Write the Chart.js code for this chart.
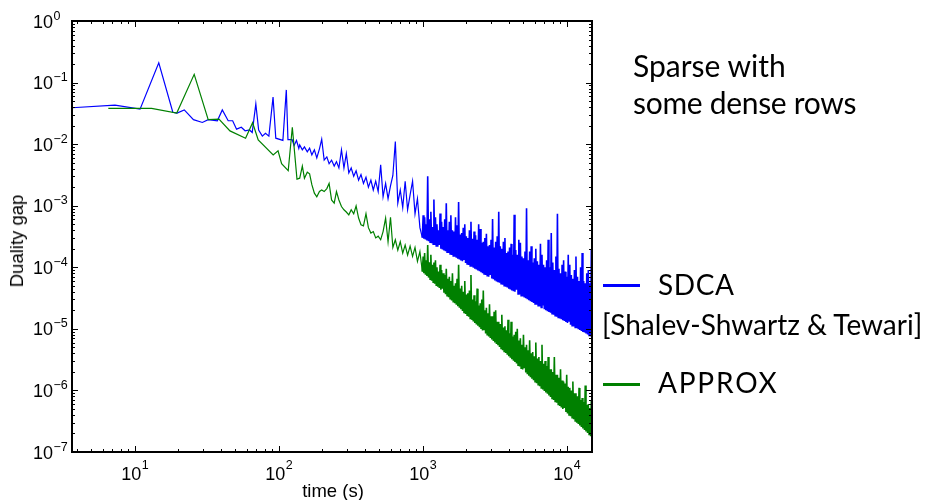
<!DOCTYPE html>
<html><head><meta charset="utf-8">
<script src="https://cdn.jsdelivr.net/npm/chart.js@4.4.1/dist/chart.umd.min.js"></script>
<style>
html,body{margin:0;padding:0;background:#fff;}
#wrap{position:relative;width:925px;height:500px;overflow:hidden;}
canvas{position:absolute;left:0;top:0;}
.t{position:absolute;white-space:nowrap;color:#000;}
.big{font-family:Lato,"Liberation Sans",sans-serif;}
.ax{font-family:"Liberation Sans",Arial,sans-serif;font-size:18.5px;}
.ln{position:absolute;height:3px;}
</style></head><body>
<div id="wrap">
<canvas id="c" width="925" height="500"></canvas>
<div class="t big" style="left:633px;top:47px;font-size:30px;line-height:36px;">Sparse with</div>
<div class="t big" style="left:633px;top:84px;font-size:30px;line-height:36px;letter-spacing:-0.3px;">some dense rows</div>
<div class="ln" style="left:603px;top:284px;width:37px;background:#0000ff;"></div>
<div class="t big" style="left:658px;top:267px;font-size:28px;line-height:34px;letter-spacing:0.6px;">SDCA</div>
<div class="t big" style="left:602px;top:307px;font-size:28px;line-height:34px;">[Shalev-Shwartz &amp; Tewari]</div>
<div class="ln" style="left:603px;top:383px;width:37px;background:#008000;"></div>
<div class="t big" style="left:658px;top:365px;font-size:28px;line-height:34px;letter-spacing:1.8px;">APPROX</div>
<div class="t ax" style="left:17px;top:241px;transform:translate(-50%,-50%) rotate(-90deg);">Duality gap</div>
<div class="t ax" style="left:333px;top:491px;transform:translate(-50%,-50%);">time (s)</div>
</div>
<script>
// ---- tick labels ----
const xMajor = [10, 100, 1000, 10000];
const xExp = ['1', '2', '3', '4'];
const yMajor = [1, 1e-1, 1e-2, 1e-3, 1e-4, 1e-5, 1e-6, 1e-7];
const yExp = ['0', '\u22121', '\u22122', '\u22123', '\u22124', '\u22125', '\u22126', '\u22127'];

// ---- SDCA, early part ----
const sdcaEarlyT = [3.67,7.3,10.9,14.7,18.4,19.7,22.1,25.6,29.5,32.4,37.5,40.6,44.6,47.9,51,55,58.5,62.7,65.5,69.4,72.6,77,81,85.5,91.4,95.5,107,113,116,124,128,133,138];
const sdcaEarlyY = [0.039,0.043,0.037,0.21,0.033,0.032,0.036,0.025,0.0225,0.025,0.024,0.036,0.024,0.024,0.0175,0.0188,0.0165,0.017,0.0155,0.045,0.017,0.0135,0.015,0.0135,0.058,0.0125,0.0115,0.076,0.0118,0.0118,0.0095,0.0115,0.0085];

// ---- APPROX, early part ----
const approxEarlyT = [6.56,13.1,19.6,25.9,32.4,38.5,45.9,58.9,65.9,72.1,91.6,99,104.8,116.5,124.4,134];
const approxEarlyY = [0.038,0.038,0.032,0.136,0.025,0.0255,0.0164,0.0125,0.0223,0.0117,0.0067,0.0078,0.0048,0.0037,0.0188,0.0027];

// ---- shared time stamps, middle part (s) ----
const tMid = [140,146,151,158,164,170,177,184,192,199,207,216,224,233,243,252,262,273,284,295,307,319,332,345,359,373,388,404,420,437,454,472,491,511,531,553,575,598,621,646,672,699,727,756,786,818,851,885,920,957];
const sdcaMid = [0.0097,0.0081,0.009,0.0075,0.0086,0.0067,0.0081,0.006,0.0084,0.012,
 0.0055,0.0062,0.0048,0.0055,0.0044,0.0052,0.0041,0.0081,0.0041,0.007,
 0.0034,0.0041,0.003,0.0037,0.0026,0.0032,0.0023,0.0029,0.002,0.0026,
 0.0018,0.0025,0.0017,0.0046,0.0014,0.0023,0.0013,0.0021,0.0031,0.011,
 0.0011,0.0018,0.00093,0.0025,0.00086,0.0015,0.0025,0.00074,0.0013,0.00044];
const approxMid = [0.0028,0.0044,0.0028,0.0035,0.0033,0.0022,0.0016,0.0014,0.0017,0.0018,
 0.0017,0.0019,0.0023,0.00124,0.0011,0.0017,0.00124,0.00097,0.00086,0.00079,
 0.00071,0.00086,0.00074,0.00099,0.00063,0.00049,0.00047,0.00074,0.00044,0.00036,
 0.00038,0.0003,0.00032,0.00028,0.00038,0.00063,0.00026,0.00065,0.00021,0.00028,
 0.00019,0.00026,0.00017,0.00023,0.000158,0.00022,0.00015,0.00021,0.000125,0.00018];

// ---- late (dense) part: troughs at tLate, peaks at tLatePk (s) ----
const tLate = [995,1020,1045,1071,1098,1126,1154,1183,1212,1242,1273,1305,1338,1371,1406,1441,1477,1514,1551,1590,1630,1671,1712,1755,1799,1844,1890,1937,1986,2035,2086,2138,2192,2247,2303,2360,2419,2480,2542,2605,2670,2737,2806,2876,2948,3021,3097,3174,3254,3335,3418,3504,3591,3681,3773,3868,3964,4063,4165,4269,4376,4485,4597,4712,4830,4951,5075,5201,5331,5465,5601,5741,5885,6032,6183,6338,6496,6659,6825,6996,7171,7350,7534,7722,7915,8113,8316,8524,8737,8955,9179,9409,9644,9885,10132,10386,10645,10911,11184,11464,11750,12044,12345,12654,12970,13295,13627,13968,14317,14675,15000];
const tLatePk = [1008,1032,1058,1084,1112,1140,1168,1197,1227,1257,1289,1321,1354,1388,1423,1459,1495,1532,1570,1610,1650,1691,1733,1777,1821,1867,1913,1961,2010,2060,2112,2165,2219,2275,2331,2389,2449,2511,2573,2637,2703,2771,2841,2912,2984,3059,3135,3214,3294,3376,3461,3547,3636,3727,3820,3916,4013,4114,4217,4322,4430,4541,4654,4771,4890,5013,5138,5266,5398,5533,5671,5813,5958,6107,6260,6417,6577,6742,6910,7083,7260,7442,7628,7818,8014,8214,8420,8630,8846,9067,9294,9526,9764,10008,10259,10515,10778,11047,11324,11607,11897,12194,12499,12812,13132,13461,13797,14142,14496,14837];

const sdcaLateLow = [3.02e-4,2.92e-4,2.82e-4,2.73e-4,2.64e-4,2.55e-4,2.47e-4,2.38e-4,2.30e-4,2.23e-4,
 2.15e-4,2.3e-4,2.01e-4,1.94e-4,1.88e-4,1.82e-4,1.76e-4,1.70e-4,1.64e-4,1.58e-4,
 1.53e-4,1.48e-4,1.43e-4,1.38e-4,1.34e-4,1.29e-4,1.25e-4,1.35e-4,1.17e-4,1.13e-4,
 1.09e-4,1.05e-4,1.02e-4,9.8e-5,9.5e-5,9.2e-5,8.9e-5,8.6e-5,8.3e-5,8.0e-5,
 7.8e-5,7.5e-5,7.3e-5,7.0e-5,7.5e-5,6.6e-5,6.4e-5,6.1e-5,5.9e-5,5.7e-5,
 5.6e-5,5.4e-5,5.2e-5,5.0e-5,4.85e-5,4.7e-5,4.5e-5,4.35e-5,4.2e-5,4.1e-5,
 4.0e-5,4.3e-5,3.7e-5,3.6e-5,3.46e-5,3.35e-5,3.24e-5,3.13e-5,3.02e-5,2.92e-5,
 2.82e-5,2.73e-5,2.64e-5,2.55e-5,2.47e-5,2.38e-5,2.3e-5,2.22e-5,2.4e-5,2.08e-5,
 2.01e-5,1.94e-5,1.88e-5,1.82e-5,1.76e-5,1.7e-5,1.64e-5,1.58e-5,1.53e-5,1.48e-5,
 1.43e-5,1.38e-5,1.34e-5,1.29e-5,1.25e-5,1.35e-5,1.17e-5,1.13e-5,1.09e-5,1.05e-5,
 1.02e-5,9.9e-6,9.6e-6,9.2e-6,8.9e-6,8.7e-6,8.4e-6,8.1e-6,7.8e-6,7.5e-6,
 7.3e-6];
const sdcaLateHigh = [7.0e-4,6.5e-4,5.0e-4,3.0e-3,6.0e-4,8.0e-4,4.5e-4,1.26e-3,6.5e-4,5.0e-4,
 4.0e-4,7.5e-4,5.5e-4,4.5e-4,6.0e-4,1.1e-3,4.0e-4,5.5e-4,7.0e-4,4.0e-4,
 3.8e-4,6.5e-4,4.8e-4,1.15e-3,3.4e-4,3.6e-4,4.4e-4,5.0e-4,3.2e-4,3.0e-4,
 4.0e-4,5.5e-4,2.9e-4,3.8e-4,3.3e-4,2.8e-4,5.0e-4,4.2e-4,2.5e-4,2.6e-4,
 3.0e-4,3.5e-4,2.2e-4,2.3e-4,2.8e-4,6.1e-4,2.1e-4,2.6e-4,3.2e-4,8.0e-4,
 2.2e-4,2.0e-4,2.6e-4,3.0e-4,1.7e-4,1.8e-4,2.1e-4,2.4e-4,1.6e-4,7.1e-4,
 1.9e-4,1.6e-4,2.8e-4,2.5e-4,1.5e-4,1.4e-4,1.8e-4,9.1e-4,1.3e-4,1.8e-4,
 2.2e-4,1.2e-4,1.4e-4,2.0e-4,1.25e-4,1.1e-4,2.4e-4,1.6e-4,1.1e-4,1.0e-4,
 1.3e-4,2.8e-4,1.0e-4,3.6e-4,1.2e-4,9.0e-5,1.5e-4,7.4e-4,9.5e-5,8.0e-5,
 1.1e-4,1.3e-4,8.5e-5,7.0e-5,1.6e-4,1.1e-4,7.5e-5,6.5e-5,9.0e-5,1.5e-4,
 7.0e-5,6.0e-5,1.0e-4,1.7e-4,6.0e-5,5.5e-5,8.0e-5,9.0e-5,5.5e-5,1.9e-4];

const approxLateLow = [8.5e-5,8.0e-5,7.6e-5,7.2e-5,6.8e-5,6.4e-5,6.07e-5,5.7e-5,5.42e-5,5.1e-5,
 4.84e-5,4.6e-5,4.33e-5,4.5e-5,3.86e-5,3.65e-5,3.45e-5,3.26e-5,3.08e-5,2.9e-5,
 2.75e-5,2.6e-5,2.46e-5,2.33e-5,2.2e-5,2.08e-5,1.96e-5,1.85e-5,1.75e-5,1.66e-5,
 1.57e-5,1.48e-5,1.4e-5,1.32e-5,1.25e-5,1.18e-5,1.12e-5,1.06e-5,1.0e-5,9.4e-6,
 9.8e-6,8.4e-6,8.0e-6,7.5e-6,7.1e-6,6.7e-6,6.35e-6,6.0e-6,5.7e-6,5.4e-6,
 5.1e-6,4.8e-6,4.5e-6,4.3e-6,4.05e-6,3.8e-6,3.6e-6,3.4e-6,3.2e-6,3.05e-6,
 2.9e-6,2.74e-6,2.58e-6,2.44e-6,2.3e-6,2.18e-6,2.3e-6,1.95e-6,1.84e-6,1.74e-6,
 1.64e-6,1.55e-6,1.47e-6,1.39e-6,1.31e-6,1.24e-6,1.17e-6,1.1e-6,1.04e-6,9.8e-7,
 9.3e-7,8.8e-7,8.3e-7,7.8e-7,7.4e-7,7.0e-7,6.65e-7,6.3e-7,5.9e-7,5.6e-7,
 5.3e-7,5.0e-7,5.2e-7,4.45e-7,4.24e-7,4.0e-7,3.8e-7,3.6e-7,3.4e-7,3.2e-7,
 3.0e-7,2.85e-7,2.7e-7,2.55e-7,2.4e-7,2.27e-7,2.15e-7,2.03e-7,1.92e-7,1.81e-7,
 1.72e-7];
const approxLateHigh = [1.5e-4,1.7e-4,1.3e-4,2.3e-4,1.2e-4,1.6e-4,1.1e-4,1.2e-4,1.3e-4,1.0e-4,
 8.5e-5,1.1e-4,9.0e-5,8.0e-5,7.5e-5,9.5e-5,6.5e-5,7.0e-5,6.0e-5,8.0e-5,
 5.0e-5,5.5e-5,6.5e-5,1.1e-4,4.5e-5,5.0e-5,4.0e-5,6.0e-5,3.6e-5,3.8e-5,
 4.2e-5,7.5e-5,3.0e-5,3.5e-5,2.8e-5,4.5e-5,2.4e-5,2.6e-5,3.0e-5,4.2e-5,
 2.0e-5,2.2e-5,1.8e-5,2.5e-5,1.6e-5,1.6e-5,1.9e-5,2.0e-5,1.3e-5,1.3e-5,
 1.2e-5,1.7e-5,1.05e-5,1.1e-5,9.5e-6,1.4e-5,8.5e-6,1.3e-5,7.5e-6,8.0e-6,
 9.0e-6,1.0e-5,6.5e-6,7.0e-6,5.5e-6,8.0e-6,5.0e-6,5.5e-6,4.5e-6,6.5e-6,
 4.0e-6,4.2e-6,3.6e-6,6.0e-6,3.3e-6,3.5e-6,3.0e-6,5.5e-6,2.7e-6,3.0e-6,
 2.5e-6,3.5e-6,2.2e-6,2.2e-6,2.0e-6,3.5e-6,1.8e-6,1.8e-6,1.6e-6,2.2e-6,
 1.45e-6,1.4e-6,1.3e-6,1.8e-6,1.15e-6,1.1e-6,1.0e-6,1.4e-6,9.0e-7,9.0e-7,
 8.0e-7,1.1e-6,7.0e-7,7.5e-7,6.5e-7,1.2e-6,5.8e-7,6.0e-7,5.2e-7,7.0e-7];

function zip(ts, ys) {
  const n = Math.min(ts.length, ys.length), out = [];
  for (let i = 0; i < n; i++) out.push({x: ts[i], y: ys[i]});
  return out;
}
const byX = (a, b) => a.x - b.x;
const sdcaPts = zip(sdcaEarlyT, sdcaEarlyY).concat(zip(tMid, sdcaMid),
  zip(tLate, sdcaLateLow).concat(zip(tLatePk, sdcaLateHigh)).sort(byX));
const approxPts = zip(approxEarlyT, approxEarlyY).concat(zip(tMid, approxMid),
  zip(tLate, approxLateLow).concat(zip(tLatePk, approxLateHigh)).sort(byX));

function logTicks(scale, eMin, eMax) {
  const out = [];
  for (let e = eMin; e <= eMax; e++) for (let m = 1; m <= 9; m++) {
    const v = m * Math.pow(10, e);
    if (v >= scale.min * 0.9999 && v <= scale.max * 1.0001) out.push({value: v, major: m === 1});
  }
  scale.ticks = out;
}

const axesPlugin = {
  id: 'axesDeco',
  afterDraw(chart) {
    const ctx = chart.ctx, a = chart.chartArea, xs = chart.scales.x, ys = chart.scales.y;
    ctx.save();
    ctx.strokeStyle = '#000';
    ctx.lineWidth = 1;
    ctx.beginPath();
    xs.ticks.forEach(t => {
      const px = Math.round(xs.getPixelForValue(t.value)) + 0.5, L = t.major ? 6 : 3;
      ctx.moveTo(px, a.bottom); ctx.lineTo(px, a.bottom - L);
      ctx.moveTo(px, a.top); ctx.lineTo(px, a.top + L);
    });
    ys.ticks.forEach(t => {
      const py = Math.round(ys.getPixelForValue(t.value)) + 0.5, L = t.major ? 6 : 3;
      ctx.moveTo(a.left, py); ctx.lineTo(a.left + L, py);
      ctx.moveTo(a.right, py); ctx.lineTo(a.right - L, py);
    });
    ctx.stroke();
    ctx.lineWidth = 2;
    ctx.strokeRect(a.left, a.top, a.right - a.left, a.bottom - a.top);
    // tick labels
    ctx.fillStyle = '#000';
    ctx.textBaseline = 'alphabetic';
    const base = '18px "Liberation Sans", Arial, sans-serif';
    const sup = '12.5px "Liberation Sans", Arial, sans-serif';
    yMajor.forEach((v, k) => {
      const py = ys.getPixelForValue(v);
      ctx.font = base; ctx.textAlign = 'right';
      ctx.fillText('10', 53, py + 6.5);
      ctx.font = sup; ctx.textAlign = 'left';
      ctx.fillText(yExp[k], 53.5, py - 1.5);
    });
    xMajor.forEach((v, k) => {
      const px = xs.getPixelForValue(v);
      ctx.font = base; const w1 = ctx.measureText('10').width;
      ctx.font = sup; const w2 = ctx.measureText(xExp[k]).width;
      const x0 = px - (w1 + w2) / 2;
      ctx.textAlign = 'left';
      ctx.font = base; ctx.fillText('10', x0, 479.5);
      ctx.font = sup; ctx.fillText(xExp[k], x0 + w1 + 0.5, 469);
    });
    ctx.restore();
  }
};

const denseWidth = c => (c.p0.parsed.x >= 990 ? 1.6 : 1.2);

new Chart(document.getElementById('c'), {
  type: 'line',
  data: {
    datasets: [
      {label: 'SDCA [Shalev-Shwartz & Tewari]', data: sdcaPts, borderColor: '#0000ff', borderWidth: 1.2,
       pointRadius: 0, tension: 0, fill: false, order: 1, segment: {borderWidth: denseWidth}},
      {label: 'APPROX', data: approxPts, borderColor: '#008000', borderWidth: 1.2,
       pointRadius: 0, tension: 0, fill: false, order: 0, segment: {borderWidth: denseWidth}}
    ]
  },
  options: {
    responsive: false, animation: false, devicePixelRatio: 1,
    layout: {padding: {left: 0, right: 333, top: 21, bottom: 0}},
    plugins: {legend: {display: false}, tooltip: {enabled: false}, title: {display: false}},
    scales: {
      x: {type: 'logarithmic', min: 3.67, max: 15000,
          grid: {display: false}, border: {display: false}, ticks: {display: false},
          afterBuildTicks: s => logTicks(s, 0, 4), afterFit: s => { s.height = 48; }},
      y: {type: 'logarithmic', min: 1e-7, max: 1,
          grid: {display: false}, border: {display: false}, ticks: {display: false},
          afterBuildTicks: s => logTicks(s, -7, 0), afterFit: s => { s.width = 72; }}
    }
  },
  plugins: [axesPlugin]
});
</script>
</body></html>
